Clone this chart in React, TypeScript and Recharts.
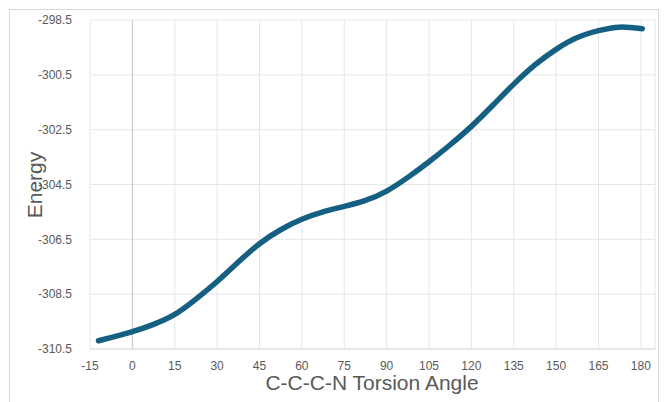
import React from 'react';
import { LineChart, Line, XAxis, YAxis, CartesianGrid, ReferenceLine } from 'recharts';

// torsion angle (deg) vs energy
const angles = [-12, -6, 0, 7.5, 15, 22.5, 30, 37.5, 45, 52.5, 60, 67.5, 75, 82.5, 90, 97.5, 105, 112.5, 120, 127.5, 135, 142.5, 150, 157.5, 165, 172.5, 180.5];
const energies = [-310.2, -310.04, -309.87, -309.6, -309.24, -308.68, -308.04, -307.33, -306.66, -306.15, -305.77, -305.5, -305.3, -305.08, -304.74, -304.24, -303.67, -303.05, -302.38, -301.62, -300.84, -300.14, -299.57, -299.14, -298.89, -298.76, -298.82];

const xTicks = [-15, 0, 15, 30, 45, 60, 75, 90, 105, 120, 135, 150, 165, 180];
const yTicks = [-310.5, -308.5, -306.5, -304.5, -302.5, -300.5, -298.5];

const FONT = '"Liberation Sans", Arial, sans-serif';
const TEXT = '#595959';

const data = angles.map((a, i) => ({ angle: a, energy: energies[i] }));

export default function App() {
  return (
    <div style={{ position: 'absolute', left: 0, top: 0, width: 664, height: 402, background: '#fff', overflow: 'hidden', fontFamily: FONT }}>
      <div style={{ position: 'absolute', left: 9, top: 9, width: 648, height: 400, border: '1px solid #d9d9d9' }} />
      <LineChart width={664} height={402} data={data} margin={{ top: 20, right: 9, left: 10, bottom: 23 }}>
        <CartesianGrid stroke="#e6e6e6" />
        <XAxis
          dataKey="angle"
          type="number"
          domain={[-15, 185]}
          ticks={xTicks}
          allowDataOverflow
          height={30}
          tickLine={false}
          axisLine={{ stroke: '#d9d9d9' }}
          tick={{ fill: TEXT, fontSize: 12, fontFamily: FONT }}
          tickMargin={6}
        />
        <YAxis
          type="number"
          domain={[-310.5, -298.5]}
          ticks={yTicks}
          width={80}
          tickLine={false}
          axisLine={false}
          tickFormatter={(v: number) => v.toFixed(1)}
          tick={{ fill: TEXT, fontSize: 12, fontFamily: FONT }}
          tickMargin={12}
        />
        <ReferenceLine x={0} stroke="#c8c8c8" />
        <Line
          type="natural"
          dataKey="energy"
          stroke="#156082"
          strokeWidth={5.5}
          strokeLinecap="round"
          dot={false}
          isAnimationActive={false}
        />
      </LineChart>
      <div style={{ position: 'absolute', left: 35, top: 185, transform: 'translate(-50%, -50%) rotate(-90deg)', fontSize: 21, color: TEXT, whiteSpace: 'nowrap' }}>
        Energy
      </div>
      <div style={{ position: 'absolute', left: 372, top: 383, transform: 'translate(-50%, -50%)', fontSize: 21, color: TEXT, whiteSpace: 'nowrap' }}>
        C-C-C-N Torsion Angle
      </div>
    </div>
  );
}
